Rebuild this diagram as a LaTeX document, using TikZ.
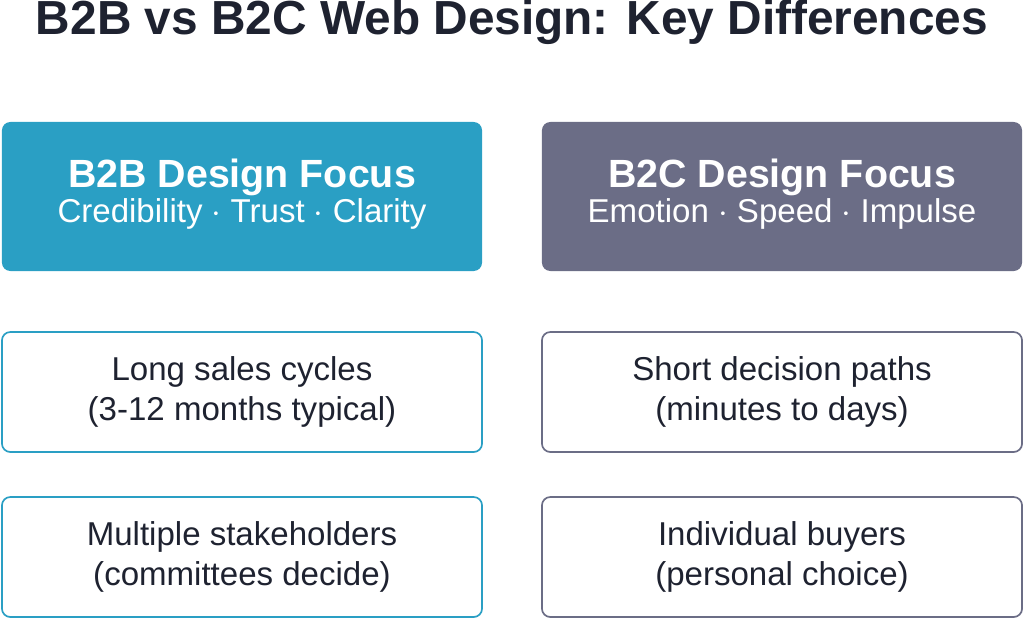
\documentclass[tikz,border=0pt]{standalone}
\usepackage{fontspec}
\setmainfont{Liberation Sans}
\usetikzlibrary{positioning}
\definecolor{bblue}{HTML}{2A9FC4}
\definecolor{cgray}{HTML}{6B6D86}
\definecolor{ink}{HTML}{1E2230}
\tikzset{
	headbox/.style={rounded corners=6pt, minimum width=12cm, minimum height=3.725cm, text=white, align=center, inner sep=0pt, font=\fontsize{23.5}{25}\selectfont},
	rowbox/.style={rounded corners=6pt, line width=1.2pt, fill=white, minimum width=12cm, minimum height=3cm, text=ink, align=center, inner sep=0pt, font=\fontsize{23.5}{28.5}\selectfont},
}
\begin{document}
\begin{tikzpicture}[x=0.025cm,y=-0.025cm]
	\useasboundingbox (0,0) rectangle (1024,619);
	\node[text=ink, font=\fontsize{34}{38}\bfseries\selectfont] (title) at (512,22) {B2B vs B2C Web Design: Key Differences};
	
	%headers
	\node[headbox, fill=bblue] (b2b) at (242,196.5) {};
	\node[text=white, align=center, font=\fontsize{23.5}{25}\selectfont] at (b2b.center) [yshift=0.05cm] {{\fontsize{28}{25}\bfseries\selectfont B2B Design Focus}\\Credibility $\cdot$ Trust $\cdot$ Clarity};
	\node[headbox, fill=cgray] (b2c) at (782,196.5) {};
	\node[text=white, align=center, font=\fontsize{23.5}{25}\selectfont] at (b2c.center) [yshift=0.05cm] {{\fontsize{28}{25}\bfseries\selectfont B2C Design Focus}\\Emotion $\cdot$ Speed $\cdot$ Impulse};
	
	%rows
	\node[rowbox, draw=bblue] (cycle) at (242,392) {Long sales cycles\\(3-12 months typical)};
	\node[rowbox, draw=cgray] (path) at (782,392) {Short decision paths\\(minutes to days)};
	\node[rowbox, draw=bblue] (stake) at (242,557) {Multiple stakeholders\\(committees decide)};
	\node[rowbox, draw=cgray] (buyer) at (782,557) {Individual buyers\\(personal choice)};
\end{tikzpicture}
\end{document}
